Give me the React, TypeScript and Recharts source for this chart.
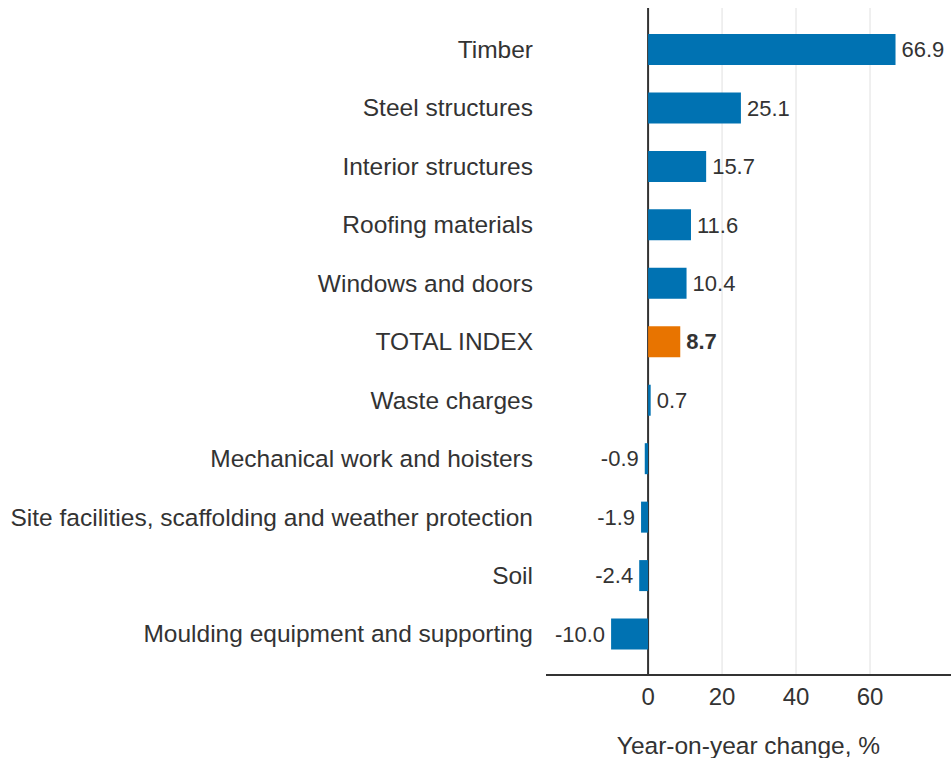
import { BarChart, Bar, XAxis, YAxis, CartesianGrid, Cell, LabelList } from 'recharts';

const categories = [
  'Timber',
  'Steel structures',
  'Interior structures',
  'Roofing materials',
  'Windows and doors',
  'TOTAL INDEX',
  'Waste charges',
  'Mechanical work and hoisters',
  'Site facilities, scaffolding and weather protection',
  'Soil',
  'Moulding equipment and supporting',
];
const changes = [66.9, 25.1, 15.7, 11.6, 10.4, 8.7, 0.7, -0.9, -1.9, -2.4, -10.0];
const xTicks = [0, 20, 40, 60];
const highlight = 'TOTAL INDEX';

const data = categories.map((name, i) => ({ name, value: changes[i] }));

const FONT = '"Liberation Sans", Arial, sans-serif';
const BLUE = '#0072b2';
const ORANGE = '#e87400';

function ValueLabel(props: any) {
  const { x, y, width, height, value, index } = props;
  const left = Math.min(x, x + width);
  const right = Math.max(x, x + width);
  const pos = value >= 0;
  const bold = categories[index] === highlight;
  return (
    <text
      x={pos ? right + 6 : left - 6}
      y={y + height / 2}
      dy="0.35em"
      textAnchor={pos ? 'start' : 'end'}
      fontSize={22}
      fontFamily={FONT}
      fontWeight={bold ? 'bold' : 'normal'}
      fill="#333"
    >
      {Number(value).toFixed(1)}
    </text>
  );
}

function XTick(props: any) {
  const { x, y, payload } = props;
  return (
    <text x={x} y={y} dy={30} textAnchor="middle" fontSize={24} fontFamily={FONT} fill="#333">
      {payload.value}
    </text>
  );
}

export default function App() {
  return (
    <div style={{ position: 'absolute', left: 0, top: 0, background: '#fff' }}>
      <BarChart
        width={951}
        height={758}
        data={data}
        layout="vertical"
        margin={{ top: 8, right: 0, bottom: 0, left: 0 }}
      >
        <CartesianGrid horizontal={false} stroke="#e0e0e0" syncWithTicks />
        <XAxis
          type="number"
          domain={[-27.6, 81.9]}
          ticks={xTicks}
          allowDataOverflow
          height={83}
          tickLine={false}
          tickSize={0}
          tickMargin={0}
          axisLine={{ stroke: '#333', strokeWidth: 2 }}
          tick={<XTick />}
          label={{
            value: 'Year-on-year change, %',
            position: 'insideBottom',
            offset: 4,
            fill: '#333',
            fontSize: 24.5,
            fontFamily: FONT,
          }}
        />
        <YAxis
          type="category"
          dataKey="name"
          width={546}
          axisLine={false}
          tickLine={false}
          tickSize={0}
          tickMargin={13}
          interval={0}
          padding={{ top: 12, bottom: 12 }}
          tick={{ fill: '#333', fontSize: 24.5, fontFamily: FONT }}
        />
        <Bar dataKey="value" barSize={31} isAnimationActive={false}>
          {data.map((d) => (
            <Cell key={d.name} fill={d.name === highlight ? ORANGE : BLUE} />
          ))}
          <LabelList dataKey="value" content={ValueLabel} />
        </Bar>
        <CartesianGrid
          horizontal={false}
          syncWithTicks
          vertical={(p: any) =>
            p.index === 0 ? (
              <line key={p.key} x1={p.x1} y1={p.y1} x2={p.x2} y2={p.y2} stroke="#333" strokeWidth={2} />
            ) : null
          }
        />
      </BarChart>
    </div>
  );
}
